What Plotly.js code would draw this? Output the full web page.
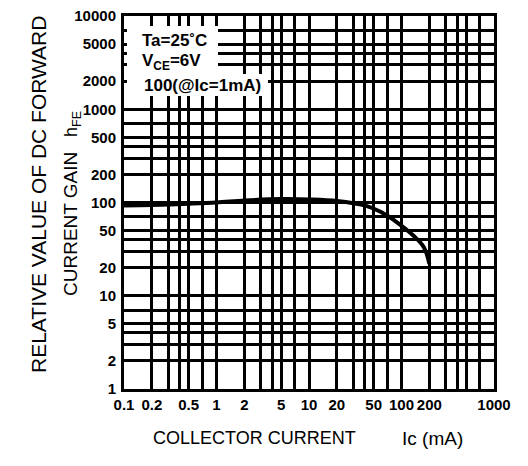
<!DOCTYPE html>
<html>
<head>
<meta charset="utf-8">
<script src="https://cdn.plot.ly/plotly-3.0.1.min.js"></script>
<style>html,body{margin:0;padding:0;background:#fff;}#chart{width:528px;height:466px;}</style>
</head>
<body>
<div id="chart"></div>
<script>
// Data
const collectorCurrent = [0.1, 0.2, 0.5, 1, 2, 5, 10, 20, 40, 60, 90, 135, 175, 200];
const relativeGain     = [93, 94, 97, 100, 105, 109, 108, 104, 93, 79, 61, 44, 33, 22];

const xGridVals = [0.1,0.2,0.3,0.4,0.5,0.7,1,2,3,4,5,7,10,20,30,40,50,70,100,200,300,400,500,700,1000];
const xLabelVals = [0.1,0.2,0.5,1,2,5,10,20,50,100,200,1000];
const yGridVals = [1,2,3,4,5,7,10,20,30,40,50,70,100,200,300,400,500,700,1000,2000,3000,4000,5000,7000,10000];
const yLabelVals = [1,2,5,10,20,50,100,200,500,1000,2000,5000,10000];

const conditions = ["Ta=25˚C", "V<sub>CE</sub>=6V", "100(@Ic=1mA)"];

function labels(vals, shown){ return vals.map(v => shown.includes(v) ? String(v) : " "); }

const L = 124, R = 494, T = 16, B = 389;
const px2x = p => (p - L) / (R - L);
const px2y = p => (B - p) / (B - T);

const fam = "Liberation Sans, Arial, sans-serif";
const tickFont = {family: fam, size: 15, color: "#000", weight: "bold"};
const axisCommon = {
  type: "log", showgrid: true, gridcolor: "#000", gridwidth: 3,
  showline: true, linecolor: "#000", linewidth: 3, mirror: true,
  zeroline: false, ticks: "", tickmode: "array", tickfont: tickFont, tickangle: 0
};

const trace = {
  x: collectorCurrent, y: relativeGain, type: "scatter", mode: "lines",
  line: {color: "#000", width: 4, shape: "spline"}, hoverinfo: "skip"
};

const annFont = {family: fam, size: 17, color: "#000", weight: "bold"};

const layout = {
  width: 528, height: 466,
  margin: {l: L, r: 528 - R, t: T, b: 466 - B},
  paper_bgcolor: "#fff", plot_bgcolor: "#fff",
  showlegend: false,
  xaxis: Object.assign({}, axisCommon, {
    range: [Math.log10(0.1), Math.log10(1000)],
    tickvals: xGridVals, ticktext: labels(xGridVals, xLabelVals), ticklabelstandoff: 0
  }),
  yaxis: Object.assign({}, axisCommon, {
    range: [0, 4],
    tickvals: yGridVals, ticktext: labels(yGridVals, yLabelVals), ticklabelstandoff: 2
  }),
  shapes: [
    {type: "rect", xref: "paper", yref: "paper", layer: "above",
     x0: px2x(127), x1: px2x(218), y0: px2y(74), y1: px2y(26),
     fillcolor: "#fff", line: {width: 0}},
    {type: "rect", xref: "paper", yref: "paper", layer: "above",
     x0: px2x(127), x1: px2x(268), y0: px2y(96), y1: px2y(74),
     fillcolor: "#fff", line: {width: 0}}
  ],
  annotations: [
    {text: conditions[0], xref: "paper", yref: "paper", x: px2x(140), y: px2y(40), xanchor: "left", yanchor: "middle", showarrow: false, font: annFont},
    {text: conditions[1], xref: "paper", yref: "paper", x: px2x(140), y: px2y(62), xanchor: "left", yanchor: "middle", showarrow: false, font: annFont},
    {text: conditions[2], xref: "paper", yref: "paper", x: px2x(142), y: px2y(85), xanchor: "left", yanchor: "middle", showarrow: false, font: annFont},
    {text: "RELATIVE VALUE OF DC FORWARD", xref: "paper", yref: "paper", x: px2x(38), y: px2y(195), textangle: -90, xanchor: "center", yanchor: "middle", showarrow: false, font: {family: fam, size: 21, color: "#000"}},
    {text: "CURRENT GAIN", xref: "paper", yref: "paper", x: px2x(71), y: px2y(224), textangle: -90, xanchor: "center", yanchor: "middle", showarrow: false, font: {family: fam, size: 19, color: "#000"}},
    {text: "h<sub>FE</sub>", xref: "paper", yref: "paper", x: px2x(73), y: px2y(124), textangle: -90, xanchor: "center", yanchor: "middle", showarrow: false, font: {family: fam, size: 18, color: "#000"}},
    {text: "COLLECTOR CURRENT", xref: "paper", yref: "paper", x: px2x(254), y: px2y(438), xanchor: "center", yanchor: "middle", showarrow: false, font: {family: fam, size: 18, color: "#000"}},
    {text: "Ic (mA)", xref: "paper", yref: "paper", x: px2x(432), y: px2y(438), xanchor: "center", yanchor: "middle", showarrow: false, font: {family: fam, size: 19, color: "#000"}}
  ]
};

Plotly.newPlot("chart", [trace], layout, {displayModeBar: false, staticPlot: true});
</script>
</body>
</html>
